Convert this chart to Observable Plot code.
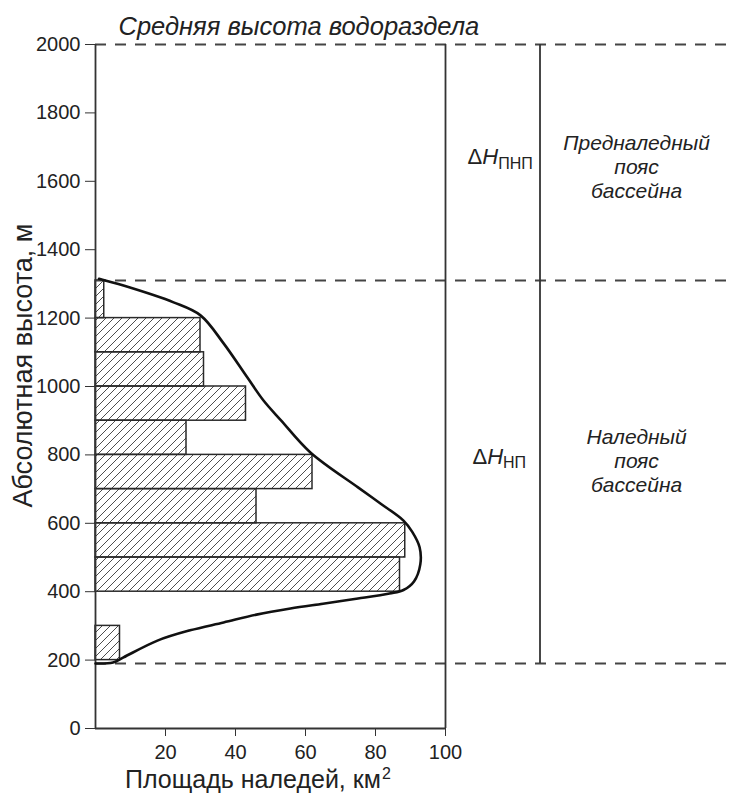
<!DOCTYPE html>
<html>
<head>
<meta charset="utf-8">
<script src="https://cdn.jsdelivr.net/npm/d3@7"></script>
<script src="https://cdn.jsdelivr.net/npm/@observablehq/plot@0.6"></script>
<style>
  html, body { margin: 0; padding: 0; background: #fff; }
  #chart { width: 729px; height: 799px; }
</style>
</head>
<body>
<div id="chart"></div>
<script>
// ---- data ----
const title = "Средняя высота водораздела";
const xLabelMain = "Площадь наледей, км";
const xLabelSup = "2";
const yLabel = "Абсолютная высота, м";
const xTicks = [20, 40, 60, 80, 100];
const yTicks = [0, 200, 400, 600, 800, 1000, 1200, 1400, 1600, 1800, 2000];

// histogram bins (m) and ice area (km²)
const binLow  = [200, 400, 500, 600, 700, 800, 900, 1000, 1100, 1200];
const binHigh = [300, 500, 600, 700, 800, 900, 1000, 1100, 1200, 1310];
const area    = [7, 87, 88.5, 46, 62, 26, 43, 31, 30, 2.5];

// smooth envelope curve
const curveX = [0, 5, 8, 17.7, 27, 36.6, 46, 55.7, 65, 75, 84, 88, 91, 92.8, 92.6, 90.5, 88, 81.4, 75, 61.4, 53, 48, 43.4, 36.6, 30, 22.3, 8, 1];
const curveY = [190, 193, 208, 257, 287, 310, 333, 351, 365, 380, 395, 405, 430, 480, 530, 575, 608, 658, 705, 807, 901, 959, 1026, 1126, 1208, 1246, 1295, 1315];

// levels
const dashedLevels = [2000, 1310, 190];
const frameX = [0, 100];
const zoneDivider = { x: 127, y1: 190, y2: 2000 };

// labels
const deltaLabels = [
  { x: 106.3, y: 1672, main: "ΔH", sub: "ПНП" },
  { x: 107.7, y: 795, main: "ΔH", sub: "НП" }
];
const zoneLabels = [
  { x: 154.6, y: 1643, text: "Предналедный\nпояс\nбассейна" },
  { x: 154.6, y: 784, text: "Наледный\nпояс\nбассейна" }
];

const bars = binLow.map((d, i) => ({ y1: d, y2: binHigh[i], x: area[i] }));
const curve = curveX.map((d, i) => ({ x: d, y: curveY[i] }));

const defs = () => {
  const g = d3.create("svg:defs");
  const p = g.append("pattern")
    .attr("id", "hatch")
    .attr("patternUnits", "userSpaceOnUse")
    .attr("width", 8).attr("height", 8);
  p.append("path")
    .attr("d", "M-2,2 l4,-4 M0,8 l8,-8 M6,10 l4,-4")
    .attr("stroke", "#3a3a3a").attr("stroke-width", 0.9);
  return g.node();
};

const chart = Plot.plot({
  width: 729,
  height: 799,
  marginLeft: 95,
  marginRight: 284,
  marginTop: 44,
  marginBottom: 71,
  style: { fontFamily: "'Liberation Sans', Arial, sans-serif", fontSize: "20px", color: "#222", background: "#fff" },
  x: { domain: [0, 100] },
  y: { domain: [0, 2000] },
  marks: [
    defs,
    Plot.rectX(bars, { x: "x", y1: "y1", y2: "y2", fill: "url(#hatch)", stroke: "#2a2a2a", strokeWidth: 1.5 }),
    Plot.ruleY(dashedLevels, { x1: 0, x2: 181, stroke: "#444", strokeWidth: 1.8, strokeDasharray: "11,9" }),
    Plot.ruleX(frameX, { y1: 0, y2: 2000, stroke: "#333", strokeWidth: 1.8 }),
    Plot.ruleX([zoneDivider], { x: "x", y1: "y1", y2: "y2", stroke: "#333", strokeWidth: 1.8 }),
    Plot.ruleY([0], { x1: 0, x2: 100, stroke: "#333", strokeWidth: 1.8 }),
    Plot.line(curve, { x: "x", y: "y", curve: "catmull-rom", stroke: "#111", strokeWidth: 2.6 }),
    Plot.axisY({ ticks: yTicks, tickFormat: d3.format("d"), tickSize: 10, tickPadding: 5, label: null, fontSize: 20, stroke: "#333" }),
    Plot.axisX({ ticks: xTicks, tickFormat: d3.format("d"), tickSize: 8, tickPadding: 8, label: null, fontSize: 20, stroke: "#333" }),
    Plot.text([yLabel], { frameAnchor: "left", y: 1061, dx: -72, rotate: -90, textAnchor: "middle", fontSize: 27, fill: "#222" }),
    Plot.text([xLabelMain + "|" + xLabelSup], { frameAnchor: "bottom", x: 46.4, dy: 59, fontSize: 25, fill: "#222", className: "xlabel" }),
    Plot.text([title], { frameAnchor: "top-left", dx: 23, dy: -28, textAnchor: "start", fontSize: 25.5, fontStyle: "italic", fill: "#222" }),
    Plot.text(zoneLabels, { x: "x", y: "y", text: "text", fontSize: 21, lineHeight: 1.14, fontStyle: "italic", fill: "#222" }),
    Plot.text(deltaLabels, { x: "x", y: "y", text: d => d.main + "|" + d.sub, textAnchor: "start", fontSize: 22, fill: "#222", className: "delta" })
  ]
});

// rich formatting of ΔH with subscript
d3.select(chart).selectAll(".delta text").each(function () {
  const t = d3.select(this);
  const [main, sub] = t.text().split("|");
  t.text("");
  t.append("tspan").text(main.slice(0, 1));
  t.append("tspan").attr("font-style", "italic").text(main.slice(1));
  t.append("tspan").attr("font-size", "16px").attr("dy", "0.3em").text(sub);
});
// superscript in x label
d3.select(chart).selectAll(".xlabel text").each(function () {
  const t = d3.select(this);
  const [main, sup] = t.text().split("|");
  t.text("");
  t.append("tspan").text(main);
  t.append("tspan").attr("font-size", "16px").attr("dy", "-0.55em").attr("dx", "1").text(sup);
});

document.getElementById("chart").appendChild(chart);
</script>
</body>
</html>
